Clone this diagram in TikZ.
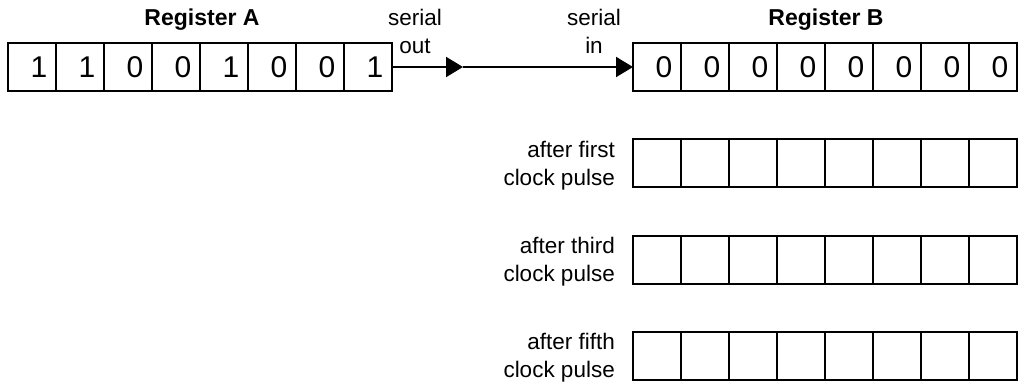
\documentclass[tikz,border=0pt]{standalone}
\usepackage{fontspec}
\setmainfont{Liberation Sans}
\usetikzlibrary{arrows.meta}
\begin{document}
\begin{tikzpicture}[x=1pt,y=-1pt,
  cell/.style={draw, line width=2pt, minimum width=48pt, minimum height=48pt,
    inner sep=0pt, outer sep=0pt, font=\fontsize{30}{30}\selectfont},
  lbl/.style={font=\fontsize{22.5}{28}\selectfont, align=center, inner sep=0pt},
  rowlbl/.style={lbl, align=right, anchor=east},
  regtitle/.style={font=\bfseries\fontsize{23}{28}\selectfont, inner sep=0pt, anchor=base},
  wire/.style={line width=2pt},
  tip/.style={-{Triangle[length=17pt,width=20pt]}}]
\useasboundingbox (0,0) rectangle (1022,382);
% Register A
\foreach \d [count=\i] in {1,1,0,0,1,0,0,1}
  \node[cell] (A\i) at ({32+48*(\i-1)},67) {\hspace*{14pt}\d};
% Register B
\foreach \d [count=\i] in {0,0,0,0,0,0,0,0}
  \node[cell] (B\i) at ({657+48*(\i-1)},67) {\hspace*{14pt}\d};
% empty registers
\foreach \r/\yy in {C/163.5,D/259.5,E/355.5}
  \foreach \i in {1,...,8}
    \node[cell] (\r\i) at ({657+48*(\i-1)},\yy) {};
% titles
\node[regtitle] (tA) at (202,26) {Register A};
\node[regtitle] (tB) at (826,26) {Register B};
% serial labels
\node[lbl] (so) at (415,31) {serial\\out};
\node[lbl] (si) at (594,31) {serial\\in};
% wire
\coordinate (m) at (463,67);
\draw[wire,tip] (A8.east) -- (m);
\draw[wire,tip] (m) -- (B1.west);
% row labels
\node[rowlbl] (lC) at ([xshift=-18pt,yshift=-2pt]C1.west) {after first\\clock pulse};
\node[rowlbl] (lD) at ([xshift=-18pt,yshift=-2pt]D1.west) {after third\\clock pulse};
\node[rowlbl] (lE) at ([xshift=-18pt,yshift=-2pt]E1.west) {after fifth\\clock pulse};
\end{tikzpicture}
\end{document}
